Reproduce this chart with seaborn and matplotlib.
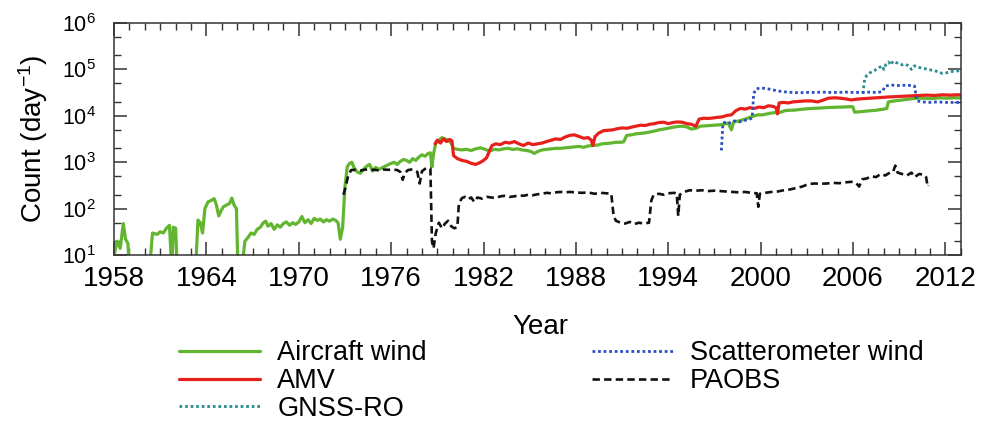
import numpy as np
import pandas as pd
import matplotlib
matplotlib.use("Agg")
import matplotlib.pyplot as plt
import matplotlib.ticker as mticker
import seaborn as sns

# ---------------- data ----------------
air_year = [1958.0, 1958.2, 1958.4, 1958.6, 1958.75, 1958.9, 1959.0, 1960.3, 1960.5, 1960.8,
            1961.0, 1961.2, 1961.4, 1961.6, 1961.75, 1961.85, 1962.0, 1962.1, 1963.3, 1963.45,
            1963.6, 1963.75, 1963.9, 1964.1, 1964.3, 1964.5, 1964.65, 1964.8, 1964.95, 1965.1,
            1965.3, 1965.5, 1965.65, 1965.8, 1965.95, 1966.05, 1966.3, 1966.5, 1966.7, 1966.9,
            1967.1, 1967.3, 1967.5, 1967.7, 1967.85, 1968.0, 1968.2, 1968.4, 1968.6, 1968.8,
            1969.0, 1969.2, 1969.4, 1969.6, 1969.8, 1970.0, 1970.2, 1970.4, 1970.6, 1970.8,
            1971.0, 1971.2, 1971.4, 1971.6, 1971.8, 1972.0, 1972.2, 1972.4, 1972.55, 1972.7,
            1972.85, 1973.0, 1973.15, 1973.3, 1973.45, 1973.6, 1973.8, 1974.0, 1974.2, 1974.4,
            1974.6, 1974.8, 1975.0, 1975.2, 1975.4, 1975.6, 1975.8, 1976.0, 1976.2, 1976.4,
            1976.6, 1976.8, 1977.0, 1977.2, 1977.4, 1977.6, 1977.8, 1978.0, 1978.2, 1978.4,
            1978.55, 1978.65, 1978.75, 1978.9, 1979.1, 1979.3, 1979.5, 1979.7, 1979.9, 1980.05,
            1980.3, 1980.6, 1980.9, 1981.2, 1981.5, 1981.8, 1982.1, 1982.4, 1982.7, 1983.0,
            1983.3, 1983.6, 1983.9, 1984.2, 1984.5, 1984.8, 1985.1, 1985.3, 1985.5, 1985.8,
            1986.1, 1986.4, 1986.7, 1987.0, 1987.3, 1987.6, 1987.9, 1988.2, 1988.5, 1988.8,
            1989.1, 1989.4, 1989.7, 1990.0, 1990.3, 1990.6, 1990.9, 1991.1, 1991.3, 1991.6,
            1991.9, 1992.2, 1992.5, 1992.8, 1993.1, 1993.4, 1993.7, 1994.0, 1994.3, 1994.6,
            1994.9, 1995.2, 1995.5, 1995.8, 1996.1, 1996.4, 1996.7, 1997.0, 1997.3, 1997.6,
            1997.9, 1998.1, 1998.25, 1998.6, 1998.9, 1999.2, 1999.5, 1999.8, 2000.1, 2000.4,
            2000.7, 2001.0, 2001.3, 2001.6, 2001.9, 2002.2, 2002.6, 2003.0, 2003.4, 2003.8,
            2004.2, 2004.6, 2005.0, 2005.4, 2005.8, 2006.0, 2006.1, 2006.5, 2007.0, 2007.5,
            2008.0, 2008.2, 2008.3, 2008.7, 2009.2, 2009.7, 2010.1, 2010.6, 2011.1, 2011.6,
            2012.1, 2012.6, 2013.2]
air_count = [10, 20, 14, 48, 22, 18, 5, 5, 30, 28,
             32, 30, 38, 44, 5, 40, 38, 5, 5, 57,
             50, 30, 100, 140, 150, 165, 120, 70, 90, 110,
             120, 130, 170, 120, 100, 5, 5, 20, 24, 30,
             28, 36, 40, 50, 54, 42, 48, 36, 45, 40,
             48, 52, 44, 50, 46, 52, 68, 50, 58, 48,
             62, 56, 60, 52, 58, 54, 60, 56, 50, 22,
             40, 300, 800, 950, 1000, 750, 620, 580, 700, 820,
             900, 650, 780, 700, 760, 820, 880, 950, 1000, 900,
             1050, 1150, 1100, 1000, 1200, 1100, 1300, 1450, 1350, 1550,
             1600, 800, 1500, 2600, 3000, 3400, 3200, 3000, 2600, 2000,
             1900, 1850, 1900, 1800, 1950, 2050, 1900, 1750, 1900, 1850,
             1950, 2000, 1900, 1950, 1850, 1800, 1700, 1550, 1700, 1850,
             1900, 1950, 2000, 2000, 2050, 2100, 2150, 2200, 2100, 2250,
             2300, 2350, 2500, 2550, 2600, 2700, 2700, 2750, 3800, 3900,
             4100, 4200, 4300, 4500, 4700, 5000, 5200, 5400, 5700, 5900,
             6000, 5800, 5200, 5400, 6000, 6100, 6200, 6300, 6400, 6600,
             7000, 5000, 7400, 7800, 8300, 9000, 9800, 10500, 10500, 11000,
             11500, 11800, 12000, 13000, 13200, 13300, 13800, 14200, 14500, 14700,
             15000, 15200, 15400, 15500, 15800, 15600, 12000, 12300, 12800, 13200,
             14000, 14500, 20000, 21000, 22000, 23000, 24000, 24000, 23500, 24500,
             24000, 24500, 24000]

amv_year = [1978.85, 1979.0, 1979.2, 1979.4, 1979.6, 1979.8, 1979.95, 1980.05, 1980.3, 1980.6,
            1980.9, 1981.2, 1981.5, 1981.8, 1982.0, 1982.2, 1982.4, 1982.55, 1982.8, 1983.1,
            1983.4, 1983.7, 1984.0, 1984.3, 1984.6, 1984.9, 1985.2, 1985.5, 1985.8, 1986.1,
            1986.4, 1986.7, 1987.0, 1987.3, 1987.6, 1987.9, 1988.2, 1988.5, 1988.8, 1989.0,
            1989.1, 1989.25, 1989.5, 1989.8, 1990.1, 1990.4, 1990.7, 1991.0, 1991.3, 1991.6,
            1991.9, 1992.2, 1992.5, 1992.8, 1993.1, 1993.4, 1993.7, 1994.0, 1994.3, 1994.6,
            1994.9, 1995.2, 1995.5, 1995.8, 1996.0, 1996.3, 1996.6, 1996.9, 1997.2, 1997.5,
            1997.8, 1998.1, 1998.4, 1998.7, 1999.0, 1999.3, 1999.6, 1999.9, 2000.2, 2000.5,
            2000.8, 2001.0, 2001.1, 2001.2, 2001.5, 2001.8, 2002.1, 2002.5, 2002.9, 2003.3,
            2003.7, 2004.0, 2004.4, 2004.8, 2005.2, 2005.6, 2005.9, 2006.3, 2006.7, 2007.1,
            2007.5, 2007.9, 2008.3, 2008.8, 2009.3, 2009.8, 2010.3, 2010.8, 2011.3, 2011.8,
            2012.3, 2012.8, 2013.2]
amv_count = [2500, 3000, 2600, 3200, 2800, 3100, 2900, 1400, 1200, 1100,
             1050, 950, 900, 1000, 1100, 1250, 1800, 2300, 2500, 2400,
             2700, 2600, 2800, 2500, 2300, 2600, 2400, 2500, 2600, 2800,
             3000, 3200, 3100, 3500, 3800, 3900, 3600, 3300, 3400, 3000,
             2300, 3600, 4300, 4800, 4900, 5000, 5300, 5500, 5400, 5700,
             6000, 6300, 6200, 6600, 6800, 7200, 7300, 6800, 7200, 7400,
             7300, 6800, 6600, 6000, 8500, 8900, 8800, 9000, 9300, 9500,
             10200, 10500, 13000, 14500, 14000, 15000, 14500, 15500, 15000, 16500,
             16000, 15000, 11000, 19000, 19500, 19000, 20000, 20500, 21000, 21000,
             20000, 21500, 24000, 24500, 24000, 23000, 22000, 23000, 23500, 24000,
             24500, 25000, 25500, 26000, 26500, 27000, 27500, 28000, 27500, 28500,
             28000, 28500, 28000]

gnss_year = [2006.65, 2006.75, 2006.9, 2007.1, 2007.3, 2007.5, 2007.7, 2007.9, 2008.0, 2008.15,
             2008.3, 2008.45, 2008.6, 2008.8, 2009.0, 2009.2, 2009.4, 2009.6, 2009.8, 2010.0,
             2010.3, 2010.6, 2010.9, 2011.2, 2011.5, 2011.8, 2012.1, 2012.4, 2012.7, 2013.0,
             2013.2]
gnss_count = [30000, 60000, 75000, 85000, 90000, 100000, 110000, 120000, 100000, 130000,
              145000, 125000, 150000, 140000, 135000, 125000, 130000, 120000, 100000, 120000,
              110000, 105000, 100000, 95000, 90000, 82000, 85000, 90000, 92000, 95000,
              93000]

scat_year = [1997.45, 1997.55, 1997.8, 1998.0, 1998.3, 1998.6, 1998.9, 1999.2, 1999.45, 1999.55,
             1999.7, 2000.0, 2000.3, 2000.7, 2001.0, 2001.5, 2002.0, 2002.5, 2003.0, 2003.5,
             2004.0, 2004.5, 2005.0, 2005.5, 2006.0, 2006.5, 2007.0, 2007.5, 2007.9, 2008.1,
             2008.5, 2009.0, 2009.5, 2010.0, 2010.15, 2010.5, 2011.0, 2011.5, 2012.0, 2012.5,
             2013.2]
scat_count = [1800, 7000, 7500, 7000, 7800, 7400, 8000, 8200, 9000, 30000,
              38000, 40000, 39000, 37000, 35000, 33000, 32000, 31500, 32000, 32000,
              32500, 32000, 32000, 32500, 32000, 32000, 32500, 32000, 33000, 44000,
              46000, 45000, 46000, 44000, 21000, 20000, 19500, 20000, 19500, 19500,
              19500]

paobs_year = [1972.9, 1973.0, 1973.2, 1973.4, 1973.7, 1974.0, 1974.3, 1974.6, 1974.9, 1975.2,
              1975.5, 1975.8, 1976.1, 1976.4, 1976.6, 1976.75, 1976.9, 1977.1, 1977.3, 1977.5,
              1977.7, 1977.85, 1978.0, 1978.2, 1978.4, 1978.55, 1978.65, 1978.75, 1978.9, 1979.1,
              1979.3, 1979.5, 1979.7, 1979.9, 1980.1, 1980.3, 1980.4, 1980.6, 1980.8, 1981.0,
              1981.2, 1981.4, 1981.6, 1981.9, 1982.2, 1982.5, 1982.8, 1983.1, 1983.4, 1983.7,
              1984.0, 1984.3, 1984.6, 1984.9, 1985.2, 1985.5, 1985.8, 1986.1, 1986.4, 1986.7,
              1987.0, 1987.3, 1987.6, 1988.0, 1988.4, 1988.8, 1989.2, 1989.6, 1990.0, 1990.3,
              1990.45, 1990.6, 1990.9, 1991.2, 1991.5, 1991.8, 1992.1, 1992.4, 1992.75, 1992.9,
              1993.05, 1993.4, 1993.7, 1994.0, 1994.4, 1994.55, 1994.65, 1994.75, 1995.0, 1995.4,
              1995.8, 1996.2, 1996.6, 1997.0, 1997.4, 1997.8, 1998.2, 1998.6, 1999.0, 1999.4,
              1999.75, 1999.85, 1999.95, 2000.3, 2000.7, 2001.1, 2001.5, 2001.9, 2002.3, 2002.7,
              2003.1, 2003.5, 2003.9, 2004.3, 2004.7, 2005.1, 2005.5, 2005.9, 2006.2, 2006.4,
              2006.6, 2006.9, 2007.2, 2007.5, 2007.8, 2008.1, 2008.4, 2008.6, 2008.75, 2008.9,
              2009.2, 2009.5, 2009.8, 2010.0, 2010.3, 2010.6, 2010.75, 2010.85, 2010.9]
paobs_count = [200, 260, 500, 680, 690, 660, 700, 680, 690, 670,
               700, 690, 700, 680, 620, 420, 600, 680, 700, 690,
               620, 350, 640, 720, 760, 740, 20, 14, 30, 50,
               38, 48, 55, 42, 38, 40, 130, 170, 180, 160,
               175, 140, 175, 165, 180, 175, 170, 185, 190, 180,
               185, 195, 190, 200, 195, 205, 210, 220, 215, 225,
               230, 225, 230, 225, 220, 225, 210, 220, 215, 210,
               70, 55, 50, 48, 52, 47, 50, 48, 50, 150,
               200, 210, 200, 215, 220, 210, 70, 200, 230, 250,
               245, 250, 240, 245, 240, 235, 230, 225, 230, 220,
               215, 110, 210, 220, 230, 235, 250, 260, 280, 300,
               340, 350, 345, 350, 360, 355, 370, 380, 360, 300,
               430, 450, 500, 480, 560, 520, 600, 620, 850, 600,
               560, 520, 600, 480, 560, 540, 480, 300, 320]

series_labels = ["Aircraft wind", "AMV", "GNSS-RO", "Scatterometer wind", "PAOBS"]
x_major_ticks = [1958, 1964, 1970, 1976, 1982, 1988, 1994, 2000, 2006, 2012]

# ---------------- styling ----------------
sns.set_style("ticks")
plt.rcParams["font.family"] = ["Liberation Sans", "DejaVu Sans"]
plt.rcParams["mathtext.default"] = "regular"
plt.rcParams["axes.edgecolor"] = "#333333"
plt.rcParams["text.color"] = "black"
plt.rcParams["axes.labelcolor"] = "black"
plt.rcParams["xtick.labelcolor"] = "black"
plt.rcParams["ytick.labelcolor"] = "black"

fig = plt.figure(figsize=(9.96, 4.26), dpi=100)
ax = fig.add_axes([0.1145, 0.401, 0.8501, 0.545])
ax.set_yscale("log")

styles = [
    (air_year, air_count, "#62b52f", "-", 2.3),
    (amv_year, amv_count, "#e8201c", "-", 2.3),
    (gnss_year, gnss_count, "#2b8c8c", (0, (1, 1)), 2.0),
    (scat_year, scat_count, "#2a4fc0", (0, (1, 1)), 2.0),
    (paobs_year, paobs_count, "#111111", (0, (2.8, 1.6)), 1.9),
]
for (xs, ys, col, ls, lw), lab in zip(styles, series_labels):
    sns.lineplot(x=xs, y=ys, ax=ax, color=col, linestyle=ls, linewidth=lw,
                 label=lab, estimator=None, sort=False)

if ax.get_legend() is not None:
    ax.get_legend().remove()

ax.set_xlim(1958, 2013.0)
ax.set_ylim(10, 1e6)
ax.set_xticks(x_major_ticks)
ax.set_xticklabels([str(t) for t in x_major_ticks])
ax.xaxis.set_minor_locator(mticker.MultipleLocator(1))
ax.yaxis.set_major_locator(mticker.LogLocator(base=10, numticks=10))
ax.yaxis.set_minor_locator(mticker.LogLocator(base=10, subs=(2.0, 5.0), numticks=20))
ax.yaxis.set_minor_formatter(mticker.NullFormatter())

for s in ax.spines.values():
    s.set_visible(True)
    s.set_linewidth(1.1)

ax.tick_params(which="both", direction="in", top=True, right=True, color="#333333",
               labelcolor="black")
ax.tick_params(which="major", length=9.4, width=1.1)
ax.tick_params(which="minor", length=5.0, width=1.0)
ax.tick_params(axis="x", which="major", labelsize=20, pad=8)
ax.tick_params(axis="y", which="major", labelsize=15.5, pad=13)

ax.set_xlabel("Year", fontsize=20, color="black")
ax.set_ylabel("Count (day$^{-1}$)", fontsize=20, color="black")
ax.xaxis.set_label_coords(0.504, -0.255)
ax.yaxis.set_label_coords(-0.076, 0.5)

handles, labels = ax.get_legend_handles_labels()
leg = fig.legend(handles, labels, loc="upper center", bbox_to_anchor=(0.5537, 0.201),
                 ncol=2, frameon=False, fontsize=19.5, handlelength=3.0, handletextpad=0.62,
                 columnspacing=6.1, labelspacing=0.06, borderpad=0, borderaxespad=0)
for t in leg.get_texts():
    t.set_color("black")

fig.savefig("out.png", dpi=100)
